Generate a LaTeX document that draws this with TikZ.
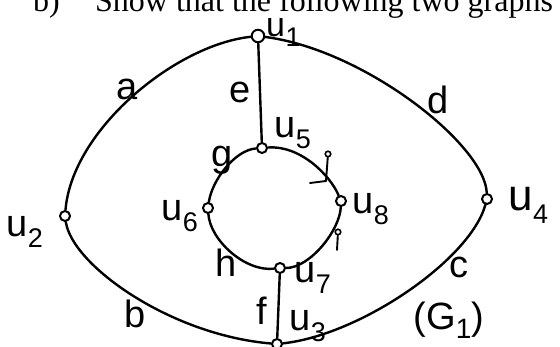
\documentclass[tikz,border=0pt]{standalone}
\usepackage{fontspec}
\usepackage{graphicx}
\setmainfont{Liberation Serif}
\newfontfamily\handfont{Liberation Sans}
\newcommand\uvx[1]{u\kern0.5pt\raisebox{-0.28em}{\fontsize{27}{27}\selectfont #1}}
\begin{document}
\begin{tikzpicture}[x=1pt,y=-1pt,
  edge/.style={line width=2.4pt,line cap=round},
  vtx/.style={circle,draw,line width=2pt,fill=white,minimum size=10pt,inner sep=0pt},
  vbig/.style={vtx,minimum size=12.5pt},
  lbl/.style={font=\handfont\fontsize{38}{40}\selectfont,inner sep=0pt},
  ulbl/.style={lbl,anchor=base west},
  head/.style={anchor=base west,inner sep=0pt,text depth=0pt,font=\fontsize{32}{38}\selectfont},
  handmark/.style={line width=1.9pt,line cap=round},
  markdot/.style={circle,draw,line width=1.6pt,fill=white,minimum size=5.5pt,inner sep=0pt}]
\useasboundingbox (0,0) rectangle (560,347);
\clip (0,0) rectangle (560,347);
% heading (cut off at top)
\node[head] (hb) at (33,12) {b)};
\node[head] (hs) at (95,12) {Show that the following two graphs};
% vertices
\node[vbig] (u1) at (258,36) {};
\node[vtx] (u2) at (65,216) {};
\node[vtx] (u3) at (277,344) {};
\node[vtx] (u4) at (487,199) {};
\node[vtx] (u5) at (262,148) {};
\node[vtx] (u6) at (208,208) {};
\node[vtx] (u7) at (280,268) {};
\node[vtx] (u8) at (341,201) {};
% edges
\draw[edge] (u1) .. controls (175,45) and (72,130) .. (u2);
\draw[edge] (u2) .. controls (72,265) and (170,335) .. (u3);
\draw[edge] (u3) .. controls (360,335) and (470,260) .. (u4);
\draw[edge] (u4) .. controls (485,145) and (365,50) .. (u1);
\draw[edge] (u1) -- (u5);
\draw[edge] (u7) -- (u3);
\draw[edge] (u5) .. controls (300,145) and (330,175) .. (u8);
\draw[edge] (u8) .. controls (340,230) and (310,268) .. (u7);
\draw[edge] (u7) .. controls (245,272) and (210,240) .. (u6);
\draw[edge] (u6) .. controls (212,180) and (235,150) .. (u5);
% vertex labels
\node[ulbl,font=\handfont\fontsize{34}{36}\selectfont] (l1) at (266,37) {\uvx{1}};
\node[ulbl] (l2) at (6,237) {\uvx{2}};
\node[ulbl] (l3) at (289,331) {\uvx{3}};
\node[ulbl,font=\handfont\fontsize{44}{46}\selectfont] (l4) at (508,211) {\uvx{4}};
\node[ulbl] (l5) at (274,138) {\uvx{5}};
\node[ulbl] (l6) at (161,221) {\uvx{6}};
\node[ulbl] (l7) at (294,283) {\uvx{7}};
\node[ulbl] (l8) at (352,214) {\uvx{8}};
% edge labels
\node[lbl] (la) at (127,89) {a};
\node[lbl] (lb) at (135,314) {b};
\node[lbl] (lc) at (459,267) {c};
\node[lbl] (ld) at (438,100) {d};
\node[lbl] (le) at (240,92) {e};
\node[lbl] (lf) at (262,311) {f};
\node[lbl] (lg) at (222,160) {g};
\node[lbl] (lh) at (226,263) {h};
\node[lbl] (lG) at (449,320) {(G\raisebox{-0.25em}{\fontsize{28}{28}\selectfont 1})};
% small hand marks on the inner edges
\node[markdot] (m1) at (328,154) {};
\coordinate (m1b) at (326,181);
\draw[handmark] (m1) -- (m1b);
\coordinate (m1l) at (310,183);
\draw[handmark] (m1l) -- (m1b);
\node[markdot] (m2) at (338,232) {};
\coordinate (m2b) at (337,250);
\draw[handmark] (m2) -- (m2b);
\end{tikzpicture}
\end{document}
